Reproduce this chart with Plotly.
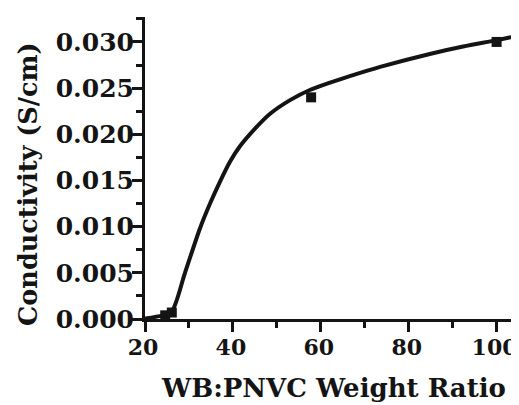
import plotly.graph_objects as go

# Measured data points (WB:PNVC ratio, conductivity S/cm)
data_x = [24.6, 26.1, 57.8, 100.0]
data_y = [0.0004, 0.0007, 0.0240, 0.0300]

# Fitted curve
curve_x = [20.0, 24.0, 26.1, 29.1, 32.5, 34.8, 37.1, 39.3, 41.6, 45.4, 48.4, 53.0,
           57.5, 62.1, 66.6, 73.5, 84.8, 92.4, 100.1, 105.1]
curve_y = [0.00005, 0.0004, 0.00085, 0.0050, 0.0098, 0.0125, 0.0149, 0.0170, 0.0187,
           0.0208, 0.0222, 0.0237, 0.0248, 0.0256, 0.0263, 0.0273, 0.0287, 0.0295,
           0.0302, 0.0307]

x_ticks = [20, 40, 60, 80, 100]
y_ticks = [0.000, 0.005, 0.010, 0.015, 0.020, 0.025, 0.030]

FONT = "DejaVu Serif"
INK = "#141414"

fig = go.Figure()
fig.add_trace(go.Scatter(x=curve_x, y=curve_y, mode="lines",
                         line=dict(color=INK, width=4, shape="spline", smoothing=0.8),
                         showlegend=False, hoverinfo="skip"))
fig.add_trace(go.Scatter(x=data_x, y=data_y, mode="markers",
                         marker=dict(symbol="square", size=10, color=INK),
                         showlegend=False))

axis_common = dict(showline=True, linecolor=INK, linewidth=3, ticks="outside",
                   tickcolor=INK, tickwidth=3, ticklen=10, showgrid=False,
                   zeroline=False, automargin=False, ticklabeloverflow="allow")

# the page body adds an 8px offset, so the figure is 8px smaller and margins shifted
fig.update_layout(
    width=511, height=397,
    margin=dict(l=137, r=0, t=9, b=86),
    paper_bgcolor="white", plot_bgcolor="white",
    xaxis=dict(range=[20, 105.1], tickvals=x_ticks, ticklabelstandoff=-3, ticklabelshift=-2,
               tickfont=dict(family=FONT, size=22, color=INK, weight="bold"),
               minor=dict(ticks="outside", ticklen=6, tickwidth=3, tickcolor=INK, dtick=10, tick0=20),
               **axis_common),
    yaxis=dict(range=[0, 0.0327], tickvals=y_ticks, tickformat=".3f", ticklabelstandoff=-7,
               tickfont=dict(family=FONT, size=25, color=INK, weight="bold"),
               minor=dict(ticks="outside", ticklen=6, tickwidth=3, tickcolor=INK, dtick=0.0025, tick0=0),
               **axis_common),
    annotations=[
        dict(text="Conductivity (S/cm)", xref="paper", yref="paper", x=-0.313, y=0.447,
             textangle=-90, showarrow=False, xanchor="center", yanchor="middle",
             font=dict(family=FONT, size=25.5, color=INK, weight="bold")),
        dict(text="WB:PNVC Weight Ratio", xref="paper", yref="paper", x=0.503, y=-0.228,
             showarrow=False, xanchor="center", yanchor="middle",
             font=dict(family=FONT, size=26, color=INK, weight="bold")),
    ],
)

fig.write_html("out.html")
